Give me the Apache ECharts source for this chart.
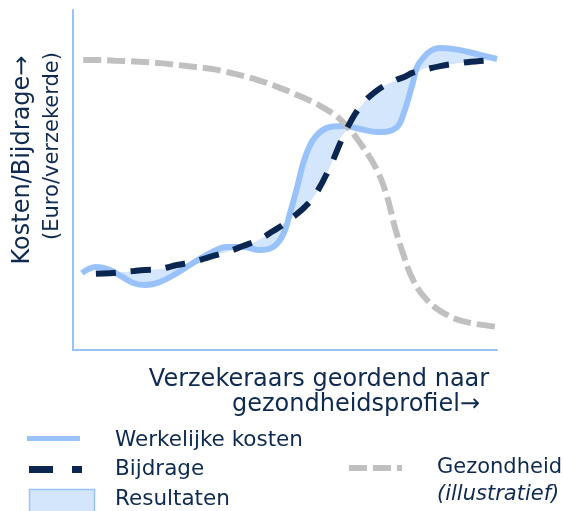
<!DOCTYPE html>
<html>
<head>
<meta charset="utf-8">
<script src="https://cdn.jsdelivr.net/npm/echarts@6/dist/echarts.min.js"></script>
<style>
html,body{margin:0;padding:0;background:#fff;}
#chart{width:563px;height:511px;}
</style>
</head>
<body>
<div id="chart"></div>
<script>
// actual costs (x = rank of insurers by health profile, 0-100; y = cost level, 0-100)
const kostenX = [2.1, 5.4, 8.7, 11.6, 14.2, 17.0, 20.5, 24.5, 28.3, 32.3, 36.3, 40.1, 44.1, 47.2, 49.5, 51.2, 52.8, 54.7, 57.1, 60.6, 64.2, 67.7, 71.9, 76.2, 78.1, 80.0, 81.8, 86.6, 91.3, 96.0, 100];
const kosten = [22.6, 24.4, 23.5, 21.5, 19.7, 19.1, 20.0, 22.6, 25.6, 28.5, 30.3, 30.3, 29.4, 30.3, 33.8, 40.3, 47.6, 56.5, 62.6, 65.6, 65.9, 65.0, 64.1, 65.3, 70.0, 77.9, 84.7, 88.8, 88.2, 86.8, 85.6];
// contribution
const bijdrageX = [5.4, 8.7, 11.6, 14.2, 17.0, 20.5, 24.5, 28.3, 32.3, 36.3, 40.1, 44.1, 47.2, 49.5, 51.2, 52.8, 54.7, 57.1, 60.6, 64.2, 67.7, 71.9, 76.2, 78.1, 80.0, 81.8, 86.6, 91.3, 96.0, 100];
const bijdrage = [22.4, 22.6, 22.9, 23.2, 23.5, 23.8, 25.0, 25.9, 27.4, 28.8, 30.6, 32.6, 35.0, 36.8, 38.5, 40.0, 42.1, 45.6, 53.8, 64.1, 71.5, 76.5, 79.4, 80.3, 81.5, 82.1, 83.5, 84.4, 85.0, 85.3];
// health (illustrative)
const gezX = [2.4, 4.5, 9.9, 15.6, 21.2, 26.9, 32.5, 37.5, 43.6, 48.8, 54.0, 58.7, 63.4, 67.7, 71.7, 74.1, 75.9, 77.8, 80.2, 83.5, 88.2, 92.9, 100];
const gezondheid = [85.3, 85.3, 85.1, 84.8, 84.3, 83.5, 82.7, 81.4, 79.4, 77.1, 74.4, 71.5, 67.4, 60.9, 52.9, 45.0, 36.2, 28.5, 20.6, 14.7, 10.3, 8.2, 6.8];

const names = {
  kosten: 'Werkelijke kosten',
  bijdrage: 'Bijdrage',
  resultaten: 'Resultaten',
  gezondheid: 'Gezondheid',
  gezondheidSub: '(illustratief)',
  xTitle1: 'Verzekeraars geordend naar',
  xTitle2: 'gezondheidsprofiel→',
  yTitle1: 'Kosten/Bijdrage→',
  yTitle2: '(Euro/verzekerde)'
};

const LIGHT = '#99c2fa';
const NAVY = '#0b2650';
const GREY = '#c0c0c0';
const FILL = '#d4e6fc';
const TXT = '#0e2a50';
const FONT = '"DejaVu Sans"';

const pair = (xs, ys) => xs.map((x, i) => [x, ys[i]]);
// band between costs and contribution (on the shared x positions)
const kostenAt = x => kosten[kostenX.indexOf(x)];
const upper = bijdrageX.map((x, i) => [x, Math.max(kostenAt(x), bijdrage[i])]);
const lower = bijdrageX.map((x, i) => [x, Math.min(kostenAt(x), bijdrage[i])]);
// white mask under the band starts a hair earlier so no seam shows at the left edge
const mask = [[lower[0][0] - 0.4, lower[0][1]]].concat(lower);

const chart = echarts.init(document.getElementById('chart'));
const SM = 0.4;
chart.setOption({
  animation: false,
  grid: {left: 73, right: 66, top: 10, bottom: 161},
  xAxis: {
    type: 'value', min: 0, max: 100, z: 10,
    axisLine: {show: true, onZero: false, lineStyle: {color: LIGHT, width: 2}},
    axisTick: {show: false}, axisLabel: {show: false}, splitLine: {show: false}
  },
  yAxis: {
    type: 'value', min: 0, max: 100, z: 10,
    axisLine: {show: true, onZero: false, lineStyle: {color: LIGHT, width: 2}},
    axisTick: {show: false}, axisLabel: {show: false}, splitLine: {show: false}
  },
  series: [
    {name: names.resultaten, type: 'line', data: upper, smooth: SM, symbol: 'none',
     lineStyle: {opacity: 0}, areaStyle: {color: FILL, opacity: 1}, z: 1},
    {name: 'mask', type: 'line', data: mask, smooth: SM, symbol: 'none',
     lineStyle: {opacity: 0}, areaStyle: {color: '#ffffff', opacity: 1}, z: 2, silent: true},
    {name: names.kosten, type: 'line', data: pair(kostenX, kosten), smooth: SM, symbol: 'none',
     lineStyle: {color: LIGHT, width: 6}, z: 3},
    {name: names.gezondheid, type: 'line', data: pair(gezX, gezondheid), smooth: SM, symbol: 'none',
     lineStyle: {color: GREY, width: 6, type: [18, 6]}, z: 4},
    {name: names.bijdrage, type: 'line', data: pair(bijdrageX, bijdrage), smooth: SM, symbol: 'none',
     lineStyle: {color: NAVY, width: 6, type: [20, 15]}, z: 5}
  ],
  graphic: [
    // axis titles
    {type: 'text', x: 23, y: 160, rotation: Math.PI / 2,
     style: {text: names.yTitle1, fill: TXT, font: '24px ' + FONT, align: 'center', verticalAlign: 'middle'}},
    {type: 'text', x: 53, y: 146, rotation: Math.PI / 2,
     style: {text: names.yTitle2, fill: TXT, font: '21px ' + FONT, align: 'center', verticalAlign: 'middle'}},
    {type: 'text', x: 319, y: 380,
     style: {text: names.xTitle1, fill: TXT, font: '24px ' + FONT, align: 'center', verticalAlign: 'middle'}},
    {type: 'text', x: 356, y: 405,
     style: {text: names.xTitle2, fill: TXT, font: '24px ' + FONT, align: 'center', verticalAlign: 'middle'}},
    // legend
    {type: 'line', shape: {x1: 27, y1: 438.5, x2: 80, y2: 438.5}, style: {stroke: LIGHT, lineWidth: 5}},
    {type: 'text', x: 115, y: 440, style: {text: names.kosten, fill: TXT, font: '21.5px ' + FONT, verticalAlign: 'middle'}},
    {type: 'line', shape: {x1: 29, y1: 469.5, x2: 82, y2: 469.5}, style: {stroke: NAVY, lineWidth: 7, lineDash: [24, 19]}},
    {type: 'text', x: 115, y: 469, style: {text: names.bijdrage, fill: TXT, font: '21.5px ' + FONT, verticalAlign: 'middle'}},
    {type: 'rect', shape: {x: 29.5, y: 489.5, width: 65, height: 30}, style: {fill: FILL, stroke: LIGHT, lineWidth: 1.5}},
    {type: 'text', x: 115, y: 499, style: {text: names.resultaten, fill: TXT, font: '21.5px ' + FONT, verticalAlign: 'middle'}},
    {type: 'line', shape: {x1: 349, y1: 468, x2: 402, y2: 468}, style: {stroke: GREY, lineWidth: 6, lineDash: [18, 6]}},
    {type: 'text', x: 437, y: 468, style: {text: names.gezondheid, fill: TXT, font: '21px ' + FONT, verticalAlign: 'middle'}},
    {type: 'text', x: 437, y: 495, style: {text: names.gezondheidSub, fill: TXT, font: 'italic 21px ' + FONT, verticalAlign: 'middle'}}
  ]
});
</script>
</body>
</html>
